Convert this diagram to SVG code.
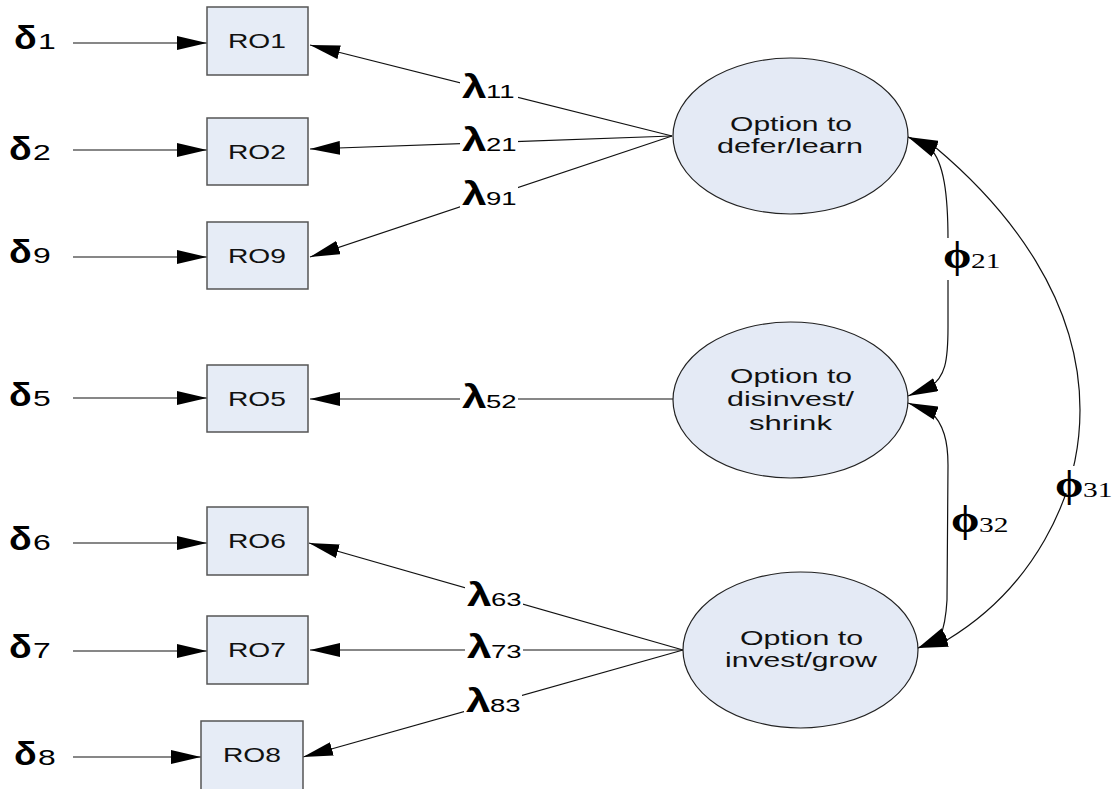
<svg xmlns="http://www.w3.org/2000/svg" width="1117" height="789" viewBox="0 0 1117 789">
  <style>
    .box { fill: #E6ECF6; stroke: #555; stroke-width: 1.5; }
    .lat { fill: #E4EAF5; stroke: #222; stroke-width: 1.2; }
    .lbl { font-family: "Liberation Sans", Arial, sans-serif; font-size: 21px; fill: #111; }
    .con { fill: none; stroke: #111; stroke-width: 1.2; }
    .bg { fill: #fff; }
    .dl { font-family: "Liberation Sans", Arial, sans-serif; font-weight: bold; font-size: 34px; fill: #000; }
    .dn { font-family: "Liberation Sans", Arial, sans-serif; font-size: 22px; fill: #000; }
    .ll { font-family: "Liberation Sans", Arial, sans-serif; font-weight: bold; font-size: 34px; fill: #000; }
    .ln { font-family: "Liberation Sans", Arial, sans-serif; font-size: 19px; fill: #000; }
    .pl { font-family: "Liberation Serif", "Times New Roman", serif; font-weight: bold; font-size: 38px; fill: #000; }
    .pn { font-family: "Liberation Serif", "Times New Roman", serif; font-size: 21px; fill: #000; }
  </style>
  <defs>
    <marker id="ah" markerUnits="userSpaceOnUse" viewBox="0 0 31 14" markerWidth="31" markerHeight="14" refX="30" refY="7" orient="auto-start-reverse">
      <path d="M0,0 L30,7 L0,14 z" fill="#000"/>
    </marker>
  </defs>

  <!-- connectors -->
  <g id="connectors">
    <!-- error terms into indicators -->
    <line class="con" x1="73" y1="43" x2="207" y2="43" marker-end="url(#ah)"/>
    <line class="con" x1="73" y1="150" x2="207" y2="150" marker-end="url(#ah)"/>
    <line class="con" x1="73" y1="257" x2="207" y2="257" marker-end="url(#ah)"/>
    <line class="con" x1="73" y1="398" x2="207" y2="398" marker-end="url(#ah)"/>
    <line class="con" x1="73" y1="543" x2="207" y2="543" marker-end="url(#ah)"/>
    <line class="con" x1="73" y1="651" x2="207" y2="651" marker-end="url(#ah)"/>
    <line class="con" x1="73" y1="757" x2="201" y2="757" marker-end="url(#ah)"/>
    <!-- loadings -->
    <line class="con" x1="672" y1="136" x2="310" y2="45" marker-end="url(#ah)"/>
    <line class="con" x1="672" y1="136" x2="310" y2="149" marker-end="url(#ah)"/>
    <line class="con" x1="672" y1="136" x2="310" y2="257" marker-end="url(#ah)"/>
    <line class="con" x1="673" y1="399" x2="310" y2="399" marker-end="url(#ah)"/>
    <line class="con" x1="683" y1="650" x2="309" y2="543" marker-end="url(#ah)"/>
    <line class="con" x1="683" y1="650" x2="310" y2="650" marker-end="url(#ah)"/>
    <line class="con" x1="683" y1="650" x2="303" y2="757" marker-end="url(#ah)"/>
    <!-- factor covariances -->
    <path class="con" d="M908,137 L930,148 C944,162 948,195 948,240 L948,327 C948,362 945,377 930,387 L908,396" marker-start="url(#ah)" marker-end="url(#ah)"/>
    <path class="con" d="M908,403 L930,411 C944,424 948,442 948,465 L947,600 C946,618 944,628 940,637 L918,648" marker-start="url(#ah)" marker-end="url(#ah)"/>
    <path class="con" d="M908,137 L935,147 C1010,210 1080,300 1080,410 C1080,500 1030,590 947,640 L918,648" marker-start="url(#ah)" marker-end="url(#ah)"/>
  </g>

  <!-- error terms -->
  <g id="errors">
    <text class="dl" transform="translate(14,49) scale(1.1,1)">δ</text><text class="dn" transform="translate(38,49) scale(1.45,1)">1</text>
    <text class="dl" transform="translate(9,160) scale(1.1,1)">δ</text><text class="dn" transform="translate(33,160) scale(1.45,1)">2</text>
    <text class="dl" transform="translate(9,263) scale(1.1,1)">δ</text><text class="dn" transform="translate(33,263) scale(1.45,1)">9</text>
    <text class="dl" transform="translate(9,406) scale(1.1,1)">δ</text><text class="dn" transform="translate(33,406) scale(1.45,1)">5</text>
    <text class="dl" transform="translate(9,550) scale(1.1,1)">δ</text><text class="dn" transform="translate(33,550) scale(1.45,1)">6</text>
    <text class="dl" transform="translate(9,658) scale(1.1,1)">δ</text><text class="dn" transform="translate(33,658) scale(1.45,1)">7</text>
    <text class="dl" transform="translate(14,765) scale(1.1,1)">δ</text><text class="dn" transform="translate(38,765) scale(1.45,1)">8</text>
  </g>

  <!-- indicators -->
  <g id="RO1"><rect class="box" x="207" y="7" width="101" height="68"/><text class="lbl" x="228" y="48" textLength="58" lengthAdjust="spacingAndGlyphs">RO1</text></g>
  <g id="RO2"><rect class="box" x="207" y="118" width="101" height="67"/><text class="lbl" x="228" y="159" textLength="58" lengthAdjust="spacingAndGlyphs">RO2</text></g>
  <g id="RO9"><rect class="box" x="207" y="222" width="101" height="67"/><text class="lbl" x="228" y="263" textLength="58" lengthAdjust="spacingAndGlyphs">RO9</text></g>
  <g id="RO5"><rect class="box" x="207" y="365" width="101" height="67"/><text class="lbl" x="228" y="406" textLength="58" lengthAdjust="spacingAndGlyphs">RO5</text></g>
  <g id="RO6"><rect class="box" x="207" y="507" width="101" height="68"/><text class="lbl" x="228" y="548" textLength="58" lengthAdjust="spacingAndGlyphs">RO6</text></g>
  <g id="RO7"><rect class="box" x="207" y="616" width="101" height="68"/><text class="lbl" x="228" y="657" textLength="58" lengthAdjust="spacingAndGlyphs">RO7</text></g>
  <g id="RO8"><rect class="box" x="201" y="721" width="102" height="75"/><text class="lbl" x="223" y="762" textLength="58" lengthAdjust="spacingAndGlyphs">RO8</text></g>

  <!-- latent factors -->
  <g id="defer">
    <ellipse class="lat" cx="790.5" cy="136" rx="117.5" ry="78"/>
    <text class="lbl" x="730" y="131" textLength="122" lengthAdjust="spacingAndGlyphs">Option to</text>
    <text class="lbl" x="717" y="153" textLength="146" lengthAdjust="spacingAndGlyphs">defer/learn</text>
  </g>
  <g id="disinvest">
    <ellipse class="lat" cx="790.5" cy="400" rx="117.5" ry="78"/>
    <text class="lbl" x="730" y="383" textLength="122" lengthAdjust="spacingAndGlyphs">Option to</text>
    <text class="lbl" x="727" y="406" textLength="127" lengthAdjust="spacingAndGlyphs">disinvest/</text>
    <text class="lbl" x="749" y="430" textLength="83" lengthAdjust="spacingAndGlyphs">shrink</text>
  </g>
  <g id="invest">
    <ellipse class="lat" cx="800.5" cy="650" rx="117.5" ry="78"/>
    <text class="lbl" x="740" y="645" textLength="123" lengthAdjust="spacingAndGlyphs">Option to</text>
    <text class="lbl" x="725" y="667" textLength="152" lengthAdjust="spacingAndGlyphs">invest/grow</text>
  </g>

  <!-- path coefficient labels -->
  <g id="loadings">
    <rect class="bg" x="460" y="76" width="58" height="25"/>
    <text class="ll" transform="translate(462,98) scale(1.3,1)">λ</text><text class="ln" transform="translate(486,98) scale(1.45,1)">11</text>
    <rect class="bg" x="460" y="129" width="58" height="25"/>
    <text class="ll" transform="translate(462,151) scale(1.3,1)">λ</text><text class="ln" transform="translate(486,151) scale(1.45,1)">21</text>
    <rect class="bg" x="460" y="183" width="58" height="25"/>
    <text class="ll" transform="translate(462,205) scale(1.3,1)">λ</text><text class="ln" transform="translate(486,205) scale(1.45,1)">91</text>
    <rect class="bg" x="460" y="386" width="58" height="25"/>
    <text class="ll" transform="translate(462,408) scale(1.3,1)">λ</text><text class="ln" transform="translate(486,408) scale(1.45,1)">52</text>
    <rect class="bg" x="465" y="584" width="58" height="25"/>
    <text class="ll" transform="translate(467,606) scale(1.3,1)">λ</text><text class="ln" transform="translate(491,606) scale(1.45,1)">63</text>
    <rect class="bg" x="465" y="636" width="58" height="25"/>
    <text class="ll" transform="translate(467,658) scale(1.3,1)">λ</text><text class="ln" transform="translate(491,658) scale(1.45,1)">73</text>
    <rect class="bg" x="464" y="690" width="58" height="25"/>
    <text class="ll" transform="translate(466,712) scale(1.3,1)">λ</text><text class="ln" transform="translate(490,712) scale(1.45,1)">83</text>
  </g>
  <g id="covariances">
    <rect class="bg" x="941" y="238" width="58" height="42"/>
    <text class="pl" transform="translate(943,268) scale(1.2,1)">ϕ</text><text class="pn" transform="translate(971,268) scale(1.4,1)">21</text>
    <rect class="bg" x="951" y="501" width="62" height="42"/>
    <text class="pl" transform="translate(951,532) scale(1.2,1)">ϕ</text><text class="pn" transform="translate(979,532) scale(1.4,1)">32</text>
    <rect class="bg" x="1057" y="466" width="60" height="27"/>
    <text class="pl" transform="translate(1055,497) scale(1.2,1)">ϕ</text><text class="pn" transform="translate(1083,497) scale(1.4,1)">31</text>
  </g>
</svg>
